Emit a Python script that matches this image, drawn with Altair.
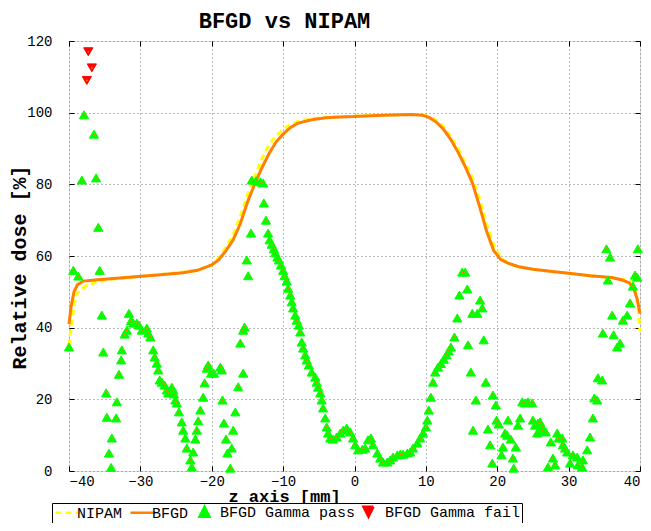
import altair as alt
import pandas as pd
import numpy as np

# ---- data ----
bfgd_x = [-40, -39.7, -39.3, -38.8, -38, -36, -32, -28, -24, -22, -20, -19, -18, -17, -16, -15, -14, -13, -12, -11,
          -10, -9, -8, -6, -4, -2, 0, 4, 8, 9.5, 10.5, 11.5, 12.5, 13.5, 14.5, 15.5, 16.5, 17.5, 18.5, 19.5,
          20.5, 21.5, 23, 25, 28, 30, 33, 36, 37.5, 38.5, 39.2, 39.6, 40]
bfgd_y = [41, 46, 50, 52, 53, 53.4, 54, 54.6, 55.3, 56, 57.5, 59, 61.5, 64.5, 69, 75, 80, 84.5, 88.5, 91.8,
          94, 95.8, 97, 98, 98.6, 98.8, 98.9, 99.3, 99.5, 99.3, 98.6, 97.3, 95.3, 92.5, 89, 85, 80.5, 74, 67, 61.5,
          59, 58, 57, 56.3, 55.6, 55.2, 54.5, 54, 53.3, 52.5, 50.5, 48, 44]

nipam_x = [-40, -39.7, -39.3, -39, -38.5, -37.5, -36, -34, -30, -26, -22, -20, -19, -18, -17, -16, -15, -14, -13, -12,
           -11, -10, -9, -8, -6, -4, -2, 0, 4, 8, 9.5, 10.5, 11.5, 12.5, 13.5, 14.5, 15.5, 16.5, 17.5, 18.5, 19.5,
           20.5, 21.5, 23, 25, 28, 30, 33, 36, 38, 39, 39.5, 39.8, 40]
nipam_y = [35, 40, 46, 49, 50.5, 51.8, 52.8, 53.5, 54.3, 55.1, 56, 57.5, 59.5, 62.5, 66, 71, 77, 82, 87, 91,
           93.5, 95.3, 96.6, 97.5, 98.3, 98.7, 98.9, 99, 99.3, 99.5, 99.4, 98.9, 97.8, 96, 93.3, 90, 86, 82, 76, 69, 63,
           59.5, 58, 57, 56.3, 55.6, 55.2, 54.5, 54, 53.3, 52.5, 49, 44, 39]

pass_x = [-40, -39.4, -38.7, -38.2, -37.9, -36.5, -36.2, -35.9, -35.7, -35.4, -35.2, -34.8, -34.7, -34.4, -34.1, -34.0,
          -33.4, -33.3, -33.0, -32.7, -32.6, -32.2, -31.9, -31.6, -31.3, -31.0, -30.5, -30.2, -29.8, -29.1, -28.9,
          -28.6, -28.2, -28.0, -27.7, -27.5, -27.3, -27.0, -26.6, -26.3, -26.1, -25.6, -25.4, -25.3, -25.1, -24.9,
          -24.6, -24.2, -24.0, -23.7, -23.5, -23.0, -22.8, -22.6, -22.3, -22.1, -21.9, -21.6, -21.2, -21.0, -20.7,
          -20.5, -20.1, -19.7, -18.8, -18.6, -18.5, -18.3, -18.0, -17.8, -17.4, -17.2, -17.0, -16.7, -16.3, -15.6,
          -16.0, -15.6, -15.4, -15.1, -14.9, -14.5, -14.4, -13.8, -13.2, -12.8, -12.7, -12.4, -12.1, -11.9, -11.6,
          -11.3, -11.1, -10.8, -10.6, -10.3, -10.0, -9.8, -9.5, -9.3, -9.0, -8.8, -8.6, -8.3, -8.1, -7.8, -7.6,
          -7.4, -7.2, -6.9, -6.7, -6.4, -6.0, -5.5, -5.3, -5.1, -4.8, -4.6, -4.4, -4.1, -3.9, -3.7, -3.4, -3.0,
          -2.5, -2.0, -1.6, -1.1, -0.6, -0.2, 0.1, 0.5, 1.1, 1.5, 1.9, 2.3, 2.6, 3.2, 3.6, 4.0, 4.6, 5.0, 5.4,
          6.0, 6.4, 6.8, 7.4, 7.8, 8.2, 8.8, 9.2, 9.6, 10.0, 10.2, 10.4, 10.7, 11.0, 11.3, 11.7, 12.1, 12.5, 12.9,
          13.2, 13.5, 14.0, 14.4, 14.7, 15.1, 15.5, 15.8, 15.9, 16.3, 16.5, 16.6, 17.0, 17.2, 17.6, 17.9, 18.1,
          18.4, 18.7, 19.0, 19.3, 19.4, 19.8, 19.9, 20.2, 20.6, 20.8, 21.1, 21.4, 21.5, 21.9, 22.2, 22.3, 22.6,
          22.9, 23.2, 23.5, 23.9, 24.3, 24.9, 25.0, 25.3, 25.6, 25.7, 26.0, 26.3, 26.4, 26.8, 27.1, 27.5, 27.8,
          28.1, 28.4, 28.6, 29.1, 29.2, 29.5, 29.8, 30.2, 30.6, 31.2, 31.3, 31.9, 32.0, 32.6, 33.0, 33.4, 33.6,
          34.0, 34.1, 34.7, 34.8, 35.3, 35.5, 35.8, 36.1, 36.3, 36.8, 37.2, 37.6, 38.2, 38.6, 39.0, 39.3, 39.6, 39.7]
pass_y = [34.6, 56, 54.4, 81.2, 99.4, 94, 81.8, 68, 56, 43.5, 33.2, 21.8, 15, 5, 1, 9.2,
          14.8, 19.3, 27, 31, 33.8, 38.2, 39.3, 44, 42, 41.3, 41.3, 40.7, 39.3, 39.9, 38.5,
          37.4, 33.8, 31.8, 30.1, 28.2, 25.4, 24.8, 24, 22.6, 21.8, 23.4, 22.6, 21.5, 19.8, 19,
          16.5, 13.7, 11.4, 9.2, 6.4, 3.1, 1.1, 5.3, 8.9, 11.4, 14, 17, 20.6, 24.6, 28.7,
          29.6, 27.3, 27.3, 29, 28.2, 19.8, 13.4, 8.9, 5, 0.8, 6.4, 11.4, 16.5, 23.5, 27.3,
          35.7, 39.3, 40.2, 58.9, 54.5, 66.4, 81.2, 81, 80.7, 80.4, 74.8, 70, 66.4, 64.5, 63.3,
          62, 60.9, 59.7, 58.9, 57.5, 56, 54.5, 53, 51, 49.1, 47.2, 45.5, 43.5, 42.1, 40.7, 38.8,
          36, 34.3, 32.4, 31, 29.6, 27.6, 26.2, 24.8, 23.4, 21.8, 19.8, 17.6, 14.8, 12.3, 10.6, 9.2, 8.9,
          9.5, 10.6, 11.4, 12, 10.9, 9.2, 7.3, 5.9, 6.1, 6.4, 8.7, 9.2, 7.3, 5, 3.6, 2.5, 2.5, 3.1, 3.9,
          4.5, 4.7, 4.7, 5, 5.3, 6.4, 7.8, 9.2, 10.6, 12.3, 14.2, 17, 20.6, 24.8, 27.6, 29, 30, 31.2, 32.4,
          33.5, 34.6, 37.4, 42.7, 49.1, 55.5, 55.5, 50.8, 35.2, 27.6, 44, 11.4, 19.8, 44, 47.7, 45.5, 36.6,
          24.8, 11.7, 7.3, 2.2, 21.2, 18.4, 14.2, 13.1, 4.5, 6.7, 10.6, 10, 14.2, 8.9, 3.6, 0.8, 6.7,
          12.8, 14.8, 19.3, 19, 19.3, 19, 14.2, 12.8, 10.6, 13.4, 13.7, 12.3, 11.4, 10.9, 1.1, 8.1, 3.6,
          1.7, 10.6, 9.2, 9.2, 7.3, 6.4, 5.3, 2.2, 4.5, 3.9, 1.7, 1.1, 3.1, 5.9, 9.5, 14.8, 20.4,
          19.8, 26, 25.4, 38.5, 62, 53.3, 59.7, 43.5, 38, 34.6, 35.7, 42.1, 43.5, 46.9, 51.6, 54.7, 54.1, 62]

fail_x = [-37.3, -36.8, -37.5]
fail_y = [117, 112.5, 109]

series_names = ["NIPAM", "BFGD", "BFGD Gamma pass", "BFGD Gamma fail"]
series_colors = ["#FFFF00", "#FF7F00", "#00FF00", "#FF0000"]
x_ticks = list(range(-40, 41, 10))
y_ticks = list(range(0, 121, 20))

# ---- tables ----
nipam_df = pd.DataFrame({"z": nipam_x, "dose": nipam_y})
bfgd_df = pd.DataFrame({"z": bfgd_x, "dose": bfgd_y})
pass_df = pd.DataFrame({"z": pass_x, "dose": pass_y})
fail_df = pd.DataFrame({"z": fail_x, "dose": fail_y})
dots_df = pd.concat([pass_df, fail_df], ignore_index=True)
legend_df = pd.DataFrame({"series": series_names, "z": [np.nan] * 4, "dose": [np.nan] * 4})

FONT = "Liberation Mono"

xscale = alt.Scale(domain=[-40, 40], nice=False, zero=False)
yscale = alt.Scale(domain=[0, 120], nice=False, zero=False)

xaxis = alt.Axis(values=x_ticks, grid=True, gridDash=[1, 3], gridColor="#777777",
                 gridOpacity=1, domain=False, ticks=True, tickSize=5, tickColor="black", tickWidth=1,
                 offset=-5, labelFont=FONT, labelFontSize=14,
                 labelColor="black", labelPadding=3, title="z axis [mm]", titleFont=FONT,
                 titleFontSize=17, titleFontWeight="bold", titleColor="black", titleX=215, titleY=35,
                 titleAlign="center", titleBaseline="alphabetic")
yaxis = alt.Axis(values=y_ticks, grid=True, gridDash=[1, 3], gridColor="#777777",
                 gridOpacity=1, domain=False, ticks=True, tickSize=5, tickColor="black", tickWidth=1,
                 offset=-5, labelFont=FONT, labelFontSize=14,
                 labelColor="black", labelPadding=17, title="Relative dose [%]", titleFont=FONT,
                 titleFontSize=20, titleFontWeight="bold", titleColor="black", titleX=-55, titleY=226,
                 titleAlign="center", titleBaseline="middle", titleAngle=270)
xaxis_top = alt.Axis(orient="top", values=x_ticks, grid=False, domain=False, labels=False, title=None,
                     ticks=True, tickSize=5, tickColor="black", tickWidth=1, offset=-5)
yaxis_right = alt.Axis(orient="right", values=y_ticks, grid=False, domain=False, labels=False, title=None,
                       ticks=True, tickSize=5, tickColor="black", tickWidth=1, offset=-5)

x_plain = alt.X("z:Q", axis=None)
y_plain = alt.Y("dose:Q", axis=None)

nipam = alt.Chart(nipam_df).mark_line(color="#FFFF00", strokeWidth=3, strokeDash=[6, 4]).encode(
    x=alt.X("z:Q", scale=xscale, axis=xaxis), y=alt.Y("dose:Q", scale=yscale, axis=yaxis))
bfgd = alt.Chart(bfgd_df).mark_line(color="#FF7F00", strokeWidth=3).encode(x=x_plain, y=y_plain)
passes = alt.Chart(pass_df).mark_point(shape="triangle-up", filled=True, color="#00FF00", stroke="#00FF00",
                                       strokeWidth=1, size=85, opacity=1).encode(x=x_plain, y=y_plain)
fails = alt.Chart(fail_df).mark_point(shape="triangle-down", filled=True, color="#FF0000", stroke="#FF0000",
                                      strokeWidth=1, size=85, opacity=1).encode(x=x_plain, y=y_plain)
dots = alt.Chart(dots_df).mark_point(shape="circle", filled=True, color="#FF7F00", size=3, opacity=1).encode(
    x=x_plain, y=y_plain)

legend = alt.Legend(title=None, orient="none", legendX=-17, legendY=462, direction="horizontal",
                    strokeColor="black", fillColor="white", padding=1, labelFont=FONT, labelFontSize=15,
                    labelColor="black", symbolSize=100, symbolStrokeWidth=2.5, labelOffset=9,
                    columnPadding=2, symbolOpacity=1,
                    labelExpr="datum.label == 'BFGD' ? 'BFGD ' : datum.label")
shape_range = ["M-1,0H4", "M-1,0H4",
               "M-1.5,0L-1.47,0M0.2,-1L1.2,1H-0.8Z",
               "M-1,-1H1L0,1Z"]
leg = alt.Chart(legend_df).mark_point(filled=True, opacity=1).encode(
    x=alt.X("z:Q", axis=xaxis_top), y=alt.Y("dose:Q", axis=yaxis_right),
    fill=alt.Fill("series:N", scale=alt.Scale(domain=series_names, range=series_colors), legend=legend),
    stroke=alt.Stroke("series:N", scale=alt.Scale(domain=series_names, range=series_colors), legend=legend),
    shape=alt.Shape("series:N", scale=alt.Scale(domain=series_names, range=shape_range), legend=legend),
    strokeDash=alt.StrokeDash("series:N", scale=alt.Scale(domain=series_names,
                                                           range=[[6, 4], [1, 0], [1, 0], [1, 0]]),
                              legend=legend),
)

chart = alt.layer(nipam, bfgd, passes, fails, dots, leg).resolve_axis(
    x="independent", y="independent"
).properties(
    width=571, height=430,
    title=alt.TitleParams("BFGD vs NIPAM", font=FONT, fontSize=22, fontWeight="bold", color="black",
                          anchor="middle", frame="group", dx=-70, dy=8, offset=9),
    autosize=alt.AutoSizeParams(type="none"),
    padding={"left": 61, "top": 33, "right": 3, "bottom": 52},
).configure_view(stroke="black", strokeWidth=1.5).configure(background="white")

chart.save("out.html", embed_options={"renderer": "svg", "actions": False})
